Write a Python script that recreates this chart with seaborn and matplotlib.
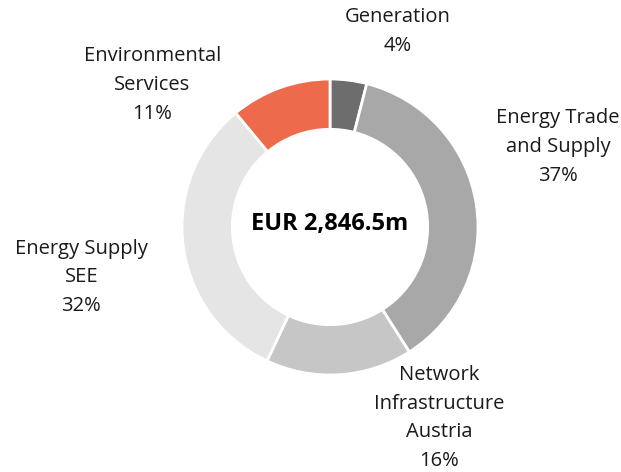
import matplotlib
matplotlib.use("Agg")
import matplotlib.pyplot as plt
import seaborn as sns

# Segment shares of revenue (clockwise from 12 o'clock)
segments = ["Generation", "Energy Trade\nand Supply", "Network\nInfrastructure\nAustria",
            "Energy Supply\nSEE", "Environmental\nServices"]
shares = [4, 37, 16, 32, 11]
colors = ["#6d6d6d", "#a8a8a8", "#c6c6c6", "#e5e5e5", "#ee6a4c"]
total_label = "EUR 2,846.5m"

# label anchor points in pie radius units
label_pos = [(0.46, 1.32), (1.54, 0.54), (0.74, -1.29), (-1.68, -0.34), (-1.20, 0.96)]

sns.set_theme(style="white")
plt.rcParams["font.family"] = ["Open Sans", "DejaVu Sans"]

fig = plt.figure(figsize=(6.21, 4.72), dpi=100)
cx, cy, r = 330, 227, 148
ax = fig.add_axes([(cx - r) / 621, (472 - cy - r) / 472, 2 * r / 621, 2 * r / 472])

ax.pie(shares, colors=colors, startangle=90, counterclock=False, radius=1,
       wedgeprops=dict(width=0.34, edgecolor="white", linewidth=2))
ax.set_xlim(-1, 1)
ax.set_ylim(-1, 1)
ax.set_aspect("equal")
ax.axis("off")

for name, val, (x, y) in zip(segments, shares, label_pos):
    ax.text(x, y, f"{name}\n{val}%", ha="center", va="center", fontsize=14.5,
            color="#1a1a1a", linespacing=1.58, clip_on=False)

ax.text(0, 0.02, total_label, ha="center", va="center", fontsize=17,
        fontweight="bold", color="#000000")

fig.savefig("out.png", dpi=100)
